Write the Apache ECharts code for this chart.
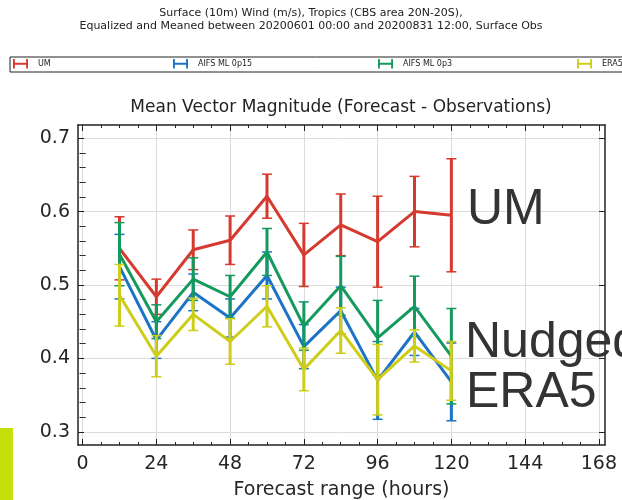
<!DOCTYPE html>
<html>
<head>
<meta charset="utf-8">
<script src="https://cdn.jsdelivr.net/npm/echarts@6/dist/echarts.min.js"></script>
<style>
  html, body { margin: 0; padding: 0; background: #fff; }
  #chart { width: 622px; height: 500px; }
</style>
</head>
<body>
<div id="chart"></div>
<script>
// forecast lead times (hours)
var hours = [12, 24, 36, 48, 60, 72, 84, 96, 108, 120];

// mean vector magnitude error and half-width of the error bars
var umMean   = [0.550, 0.484, 0.548, 0.561, 0.621, 0.541, 0.582, 0.559, 0.600, 0.595];
var umErr    = [0.043, 0.024, 0.027, 0.033, 0.030, 0.043, 0.042, 0.062, 0.048, 0.077];
var p15Mean  = [0.525, 0.425, 0.490, 0.455, 0.513, 0.416, 0.465, 0.370, 0.436, 0.368];
var p15Err   = [0.044, 0.025, 0.025, 0.026, 0.032, 0.030, 0.032, 0.053, 0.032, 0.053];
var p3Mean   = [0.542, 0.450, 0.508, 0.484, 0.545, 0.444, 0.499, 0.428, 0.471, 0.403];
var p3Err    = [0.043, 0.023, 0.029, 0.029, 0.032, 0.033, 0.040, 0.051, 0.041, 0.065];
var era5Mean = [0.486, 0.403, 0.460, 0.423, 0.471, 0.385, 0.438, 0.371, 0.417, 0.383];
var era5Err  = [0.042, 0.028, 0.022, 0.031, 0.028, 0.029, 0.031, 0.048, 0.022, 0.040];

var names  = ['UM', 'AIFS ML 0p15', 'AIFS ML 0p3', 'ERA5'];
var colors = ['#d63a2f', '#1c74c9', '#159a5e', '#cdcd1a'];

var xTicks = [0, 24, 48, 72, 96, 120, 144, 168];
var yTicks = [0.3, 0.4, 0.5, 0.6, 0.7];

var means = [umMean, p15Mean, p3Mean, era5Mean];
var errs  = [umErr, p15Err, p3Err, era5Err];

// minor ticks: every 6 h on x, every 0.02 on y
var xMinor = [];
for (var h = 6; h < 170; h += 6) { if (h % 24 !== 0) xMinor.push(h); }
var yMinor = [];
for (var k = 15; k <= 35; k++) { if (k % 5 !== 0) yMinor.push(Math.round(k * 2) / 100); }

var FONT = 'DejaVu Sans';
var ink = '#222';

function tickAxis(pos, vals, len, extra) {
    var a = {
        type: 'value',
        position: pos,
        axisLine: { show: false },
        axisTick: { show: true, inside: true, length: len, customValues: vals, lineStyle: { color: ink, width: 1 } },
        axisLabel: { show: false },
        splitLine: { show: false }
    };
    return Object.assign(a, extra);
}

var xRange = { min: -1.5, max: 170 };
var yRange = { min: 0.282, max: 0.718 };

var xAxes = [
    Object.assign(tickAxis('bottom', xTicks, 6, {
        axisLine: { show: true, onZero: false, lineStyle: { color: ink, width: 1.5 } },
        axisLabel: { show: true, customValues: xTicks, fontSize: 19, color: '#262626', fontFamily: FONT, margin: 10 },
        splitLine: { show: true, lineStyle: { color: '#dcdcdc', width: 1 } },
        name: 'Forecast range (hours)', nameLocation: 'middle', nameGap: 36,
        nameTextStyle: { fontSize: 19, color: '#262626', fontFamily: FONT }
    }), xRange),
    Object.assign(tickAxis('bottom', xMinor, 3), xRange),
    Object.assign(tickAxis('top', xTicks, 6, { axisLine: { show: true, onZero: false, lineStyle: { color: ink, width: 1.5 } } }), xRange),
    Object.assign(tickAxis('top', xMinor, 3), xRange)
];

var yAxes = [
    Object.assign(tickAxis('left', yTicks, 6, {
        axisLine: { show: true, onZero: false, lineStyle: { color: ink, width: 1.5 } },
        axisLabel: { show: true, customValues: yTicks, fontSize: 19, color: '#262626', fontFamily: FONT, margin: 8 },
        splitLine: { show: true, lineStyle: { color: '#dcdcdc', width: 1 } }
    }), yRange),
    Object.assign(tickAxis('left', yMinor, 3), yRange),
    Object.assign(tickAxis('right', yTicks, 6, { axisLine: { show: true, onZero: false, lineStyle: { color: ink, width: 1.5 } } }), yRange),
    Object.assign(tickAxis('right', yMinor, 3), yRange)
];

function errorBars(color) {
    return function (params, api) {
        var x = api.value(0);
        var hi = api.coord([x, api.value(2)]);
        var lo = api.coord([x, api.value(1)]);
        return {
            type: 'group',
            children: [
                { type: 'line', shape: { x1: hi[0], y1: hi[1], x2: lo[0], y2: lo[1] }, style: { stroke: color, lineWidth: 3 } },
                { type: 'line', shape: { x1: hi[0] - 5, y1: hi[1], x2: hi[0] + 5, y2: hi[1] }, style: { stroke: color, lineWidth: 1.5 } },
                { type: 'line', shape: { x1: lo[0] - 5, y1: lo[1], x2: lo[0] + 5, y2: lo[1] }, style: { stroke: color, lineWidth: 1.5 } }
            ]
        };
    };
}

var series = [];
for (var i = 0; i < names.length; i++) {
    var barData = hours.map(function (h, j) {
        return [h, means[i][j] - errs[i][j], means[i][j] + errs[i][j]];
    });
    series.push({
        type: 'custom',
        renderItem: errorBars(colors[i]),
        data: barData,
        encode: { x: 0, y: [1, 2] },
        z: 2 + i * 2,
        silent: true
    });
    series.push({
        name: names[i],
        type: 'line',
        data: hours.map(function (h, j) { return [h, means[i][j]]; }),
        symbol: 'none',
        lineStyle: { color: colors[i], width: 3 },
        itemStyle: { color: colors[i] },
        z: 3 + i * 2
    });
}

var hIcon = 'path://M0,0h2v10h-2z M14,0h2v10h-2z M0,4h16v2h-16z';
var legendLeft = [13, 173, 378, 577];
var legends = names.map(function (n, i) {
    return {
        data: [n], left: legendLeft[i], top: 59, padding: 0,
        icon: hIcon, itemWidth: 15, itemHeight: 10,
        selectedMode: false,
        textStyle: { fontSize: 8, color: ink, fontFamily: FONT, padding: [0, 0, 0, 5] }
    };
});

var myChart = echarts.init(document.getElementById('chart'));

var option = {
    animation: false,
    backgroundColor: '#fff',
    grid: { left: 78, right: 17, top: 125, bottom: 55, containLabel: false, outerBoundsMode: 'none' },
    xAxis: xAxes,
    yAxis: yAxes,
    legend: legends,
    series: series,
    graphic: [
        { type: 'text', left: 'center', top: 7,
          style: { text: 'Surface (10m) Wind (m/s), Tropics (CBS area 20N-20S),\nEqualized and Meaned between 20200601 00:00 and 20200831 12:00, Surface Obs',
                   fill: ink, font: '11px "DejaVu Sans"', textAlign: 'center', lineHeight: 13 } },
        { type: 'rect', shape: { x: 10, y: 57, width: 620, height: 15 },
          style: { fill: 'none', stroke: ink, lineWidth: 1 } },
        { type: 'text', x: 341, y: 108,
          style: { text: 'Mean Vector Magnitude (Forecast - Observations)', fill: ink,
                   font: '17px "DejaVu Sans"', textAlign: 'center', textVerticalAlign: 'middle' } },
        { type: 'text', x: 467, y: 210, z: 100,
          style: { text: 'UM', fill: '#333', font: '50px "Liberation Sans"', textVerticalAlign: 'middle' } },
        { type: 'text', x: 465, y: 343, z: 100,
          style: { text: 'Nudged', fill: '#333', font: '50px "Liberation Sans"', textVerticalAlign: 'middle' } },
        { type: 'text', x: 466, y: 393, z: 100,
          style: { text: 'ERA5', fill: '#333', font: '50px "Liberation Sans"', textVerticalAlign: 'middle' } },
        { type: 'rect', shape: { x: 0, y: 428, width: 13, height: 72 },
          style: { fill: '#c4e00b' } }
    ]
};

option && myChart.setOption(option);
</script>
</body>
</html>
